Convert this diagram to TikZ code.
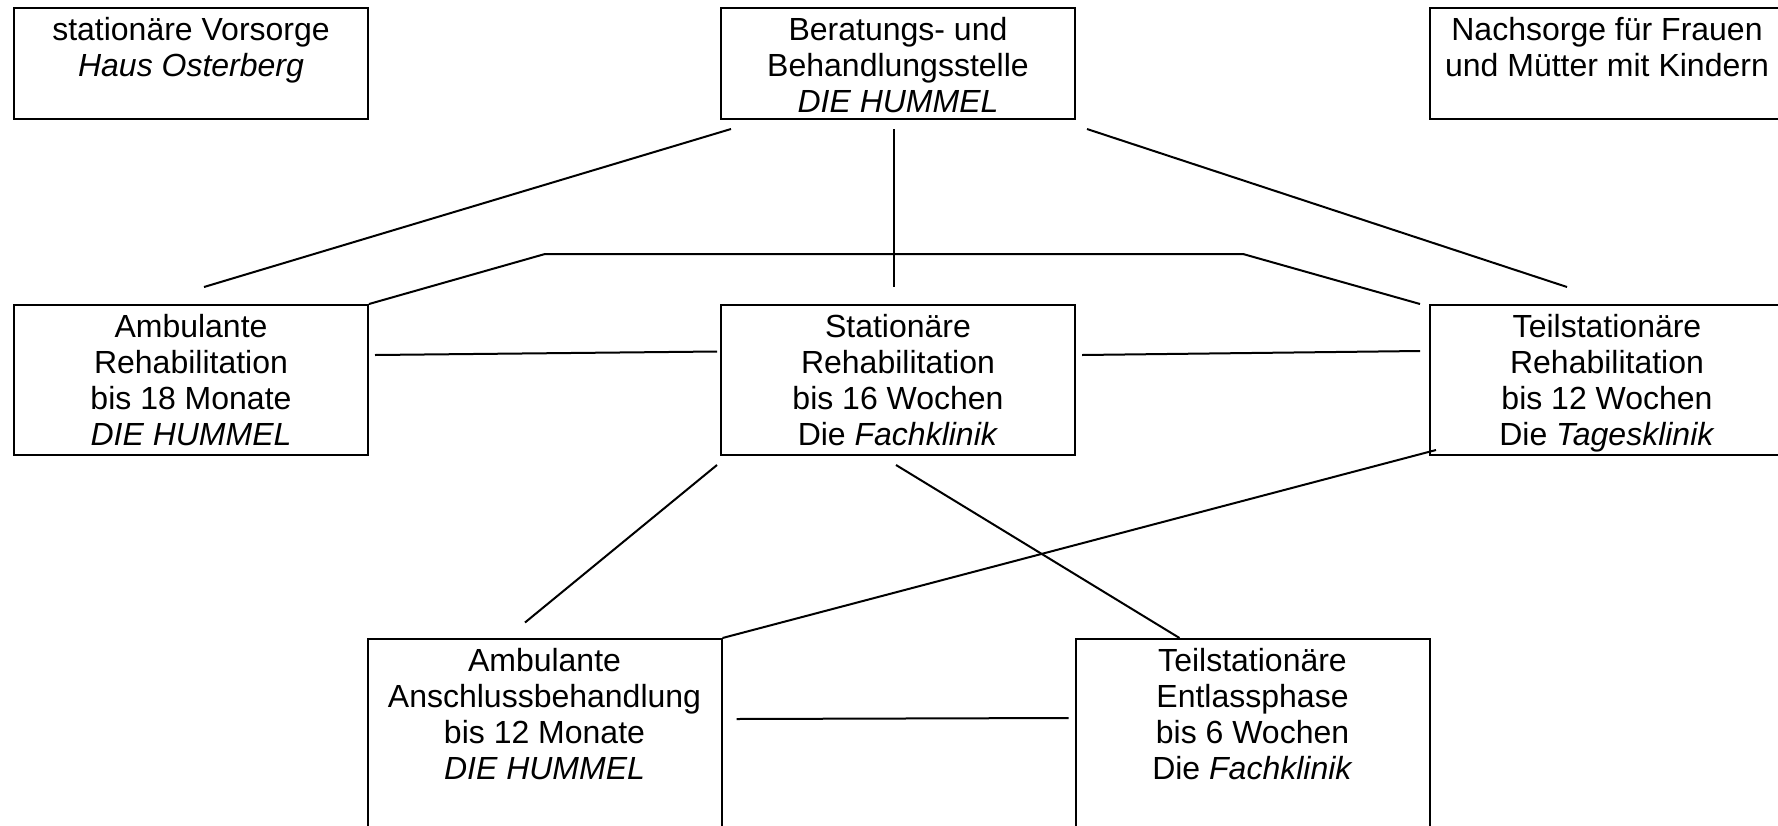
\documentclass[tikz,border=0pt]{standalone}
\usepackage{fontspec}
\setmainfont{Liberation Sans}
\usetikzlibrary{calc}
\tikzset{
  box/.style={draw, line width=1pt, inner sep=0pt, minimum width=177pt, anchor=north},
  txt/.style={anchor=north, align=center, inner sep=0pt, font=\fontsize{16}{18}\selectfont},
}
\newcommand{\topline}{\rule{0pt}{16pt}}

\begin{document}
\begin{tikzpicture}[x=0.5pt, y=-0.5pt, line width=1pt]
    \clip (0,0) rectangle (1778,825);
    % top row
    \node[box, minimum height=55.5pt] (vor) at (191,7) {};
    \node[box, minimum height=55.5pt] (bera) at (898,7) {};
    \node[box, minimum height=55.5pt] (nach) at (1607,7) {};
    % middle row
    \node[box, minimum height=75pt] (amb) at (191,304) {};
    \node[box, minimum height=75pt] (sta) at (898,304) {};
    \node[box, minimum height=75pt] (teil) at (1607,304) {};
    % bottom row
    \node[box, minimum height=120pt] (anb) at (544.5,638) {};
    \node[box, minimum height=120pt] (ent) at (1252.5,638) {};
    % texts
    \node[txt] (vor-t) at (vor.north) {\topline stationäre Vorsorge\\ \textit{Haus Osterberg}};
    \node[txt] (bera-t) at (bera.north) {\topline Beratungs- und\\ Behandlungsstelle\\ \textit{DIE HUMMEL}};
    \node[txt] (nach-t) at (nach.north) {\topline Nachsorge für Frauen\\ und Mütter mit Kindern};
    \node[txt] (amb-t) at (amb.north) {\topline Ambulante\\ Rehabilitation\\ bis 18 Monate\\ \textit{DIE HUMMEL}};
    \node[txt] (sta-t) at (sta.north) {\topline Stationäre\\ Rehabilitation\\ bis 16 Wochen\\ Die \textit{Fachklinik}};
    \node[txt] (teil-t) at (teil.north) {\topline Teilstationäre\\ Rehabilitation\\ bis 12 Wochen\\ Die \textit{Tagesklinik}};
    \node[txt] (anb-t) at (anb.north) {\topline Ambulante\\ Anschlussbehandlung\\ bis 12 Monate\\ \textit{DIE HUMMEL}};
    \node[txt] (ent-t) at (ent.north) {\topline Teilstationäre\\ Entlassphase\\ bis 6 Wochen\\ Die \textit{Fachklinik}};
    % lines from the top
    \draw ($(bera.south west)+(11,9)$) -- ($(amb.north)+(13,-17)$);
    \draw ($(bera.south)+(-4,9)$) -- ($(sta.north)+(-4,-17)$);
    \draw ($(bera.south east)+(11,9)$) -- ($(teil.north)+(-40,-17)$);
    \draw (amb.north east) -- ($(amb.north east)+(176,-50)$)
      -- ($(teil.north west)+(-186,-50)$) -- ($(teil.north west)+(-9,0)$);
    % horizontal lines
    \draw ($(amb.north east)+(6,51)$) -- ($(sta.north west)+(-3,47.5)$);
    \draw ($(sta.north east)+(6,51)$) -- ($(teil.north west)+(-9,47)$);
    \draw ($(anb.north east)+(14,81)$) -- ($(ent.north west)+(-6,80)$);
    % lines to the bottom
    \draw ($(sta.south west)+(-3,9)$) -- ($(anb.north)+(-19.5,-15.5)$);
    \draw ($(sta.south)+(-2,9)$) -- ($(ent.north west)+(105,0)$);
    \draw ($(teil.south west)+(7,-6)$) -- (anb.north east);
\end{tikzpicture}
\end{document}
